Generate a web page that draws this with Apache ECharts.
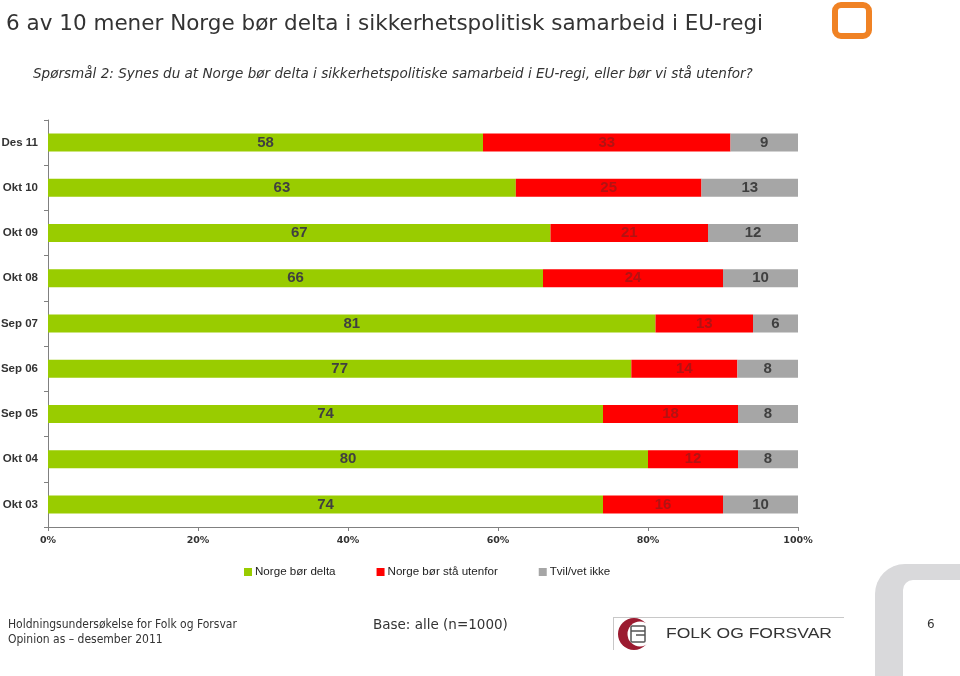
<!DOCTYPE html>
<html><head><meta charset="utf-8">
<script src="https://cdn.jsdelivr.net/npm/echarts@6/dist/echarts.min.js"></script>
<style>html,body{margin:0;padding:0;background:#fff}#c{width:960px;height:676px}</style>
</head><body><div id="c"></div>
<script>
const categories = ['Des 11','Okt 10','Okt 09','Okt 08','Sep 07','Sep 06','Sep 05','Okt 04','Okt 03'];
const delta = [58,63,67,66,81,77,74,80,74];
const utenfor = [33,25,21,24,13,14,18,12,16];
const tvil = [9,13,12,10,6,8,8,8,10];
const seriesNames = ['Norge bør delta','Norge bør stå utenfor','Tvil/vet ikke'];
const xTicks = [0,20,40,60,80,100];

const totals = categories.map((c,i)=>delta[i]+utenfor[i]+tvil[i]);
function pct(arr){return arr.map((v,i)=>({value:v/totals[i]*100, raw:v}));}
const colors = ['#99cc00','#ff0000','#a6a6a6'];
const labelColors = ['#404040','#b31212','#404040'];
const raw = [delta,utenfor,tvil];

const chart = echarts.init(document.getElementById('c'));
chart.setOption({
  animation:false,
  title:[{text:'6 av 10 mener Norge bør delta i sikkerhetspolitisk samarbeid i EU-regi',left:1,top:8,
    textStyle:{fontFamily:'DejaVu Sans',fontSize:21.5,fontWeight:'normal',color:'#333'}},
    {text:'Spørsmål 2: Synes du at Norge bør delta i sikkerhetspolitiske samarbeid i EU-regi, eller bør vi stå utenfor?',left:28,top:62,
    textStyle:{fontFamily:'DejaVu Sans',fontSize:13.55,fontStyle:'italic',fontWeight:'normal',color:'#333'}}],
  grid:{left:48,right:162,top:120,bottom:149,outerBoundsMode:'none',containLabel:false},
  legend:{data:seriesNames,left:239,top:561,itemWidth:8,itemHeight:8,itemGap:41,icon:'rect',
    textStyle:{fontFamily:'Liberation Sans Narrow, Arial Narrow, Liberation Sans',fontSize:11.6,color:'#222',padding:[0,0,0,-2]}},
  xAxis:{type:'value',min:0,max:100,interval:20,
    axisLine:{show:true,lineStyle:{color:'#808080'}},
    axisTick:{show:true,length:4,lineStyle:{color:'#808080'}},
    splitLine:{show:false},
    axisLabel:{formatter:'{value}%',fontFamily:'DejaVu Sans',fontSize:9.5,fontWeight:'bold',color:'#333',margin:9}},
  yAxis:{type:'category',data:categories,inverse:true,
    axisLine:{show:true,lineStyle:{color:'#808080'}},
    axisTick:{show:true,length:4,lineStyle:{color:'#808080'}},
    axisLabel:{fontFamily:'Liberation Sans, Arial',fontSize:11.5,fontWeight:'bold',color:'#333',margin:10}},
  series:[0,1,2].map(k=>({
    name:seriesNames[k],type:'bar',stack:'s',barWidth:18,
    itemStyle:{color:colors[k]},
    label:{show:true,position:'inside',formatter:p=>p.data.raw,
      fontFamily:'Liberation Sans, Arial',fontSize:15,fontWeight:'bold',color:labelColors[k]},
    data:pct(raw[k])
  })),
  graphic:[
    {type:'rect',shape:{x:875,y:564,width:200,height:200,r:30},style:{fill:'#d9d9db'}},
    {type:'rect',shape:{x:903,y:580,width:200,height:200,r:10},style:{fill:'#fff'}},
    {type:'rect',shape:{x:835,y:5,width:34,height:31,r:6},style:{fill:'#fff',stroke:'#f08224',lineWidth:6}},
    {type:'text',x:8,y:617,style:{text:'Holdningsundersøkelse for Folk og Forsvar\nOpinion as – desember 2011',
      font:'12px DejaVu Sans Condensed, DejaVu Sans',fill:'#333',lineHeight:15}},
    {type:'text',x:373,y:618,style:{text:'Base: alle (n=1000)',font:'13.5px DejaVu Sans',fill:'#333'}},
    {type:'text',x:927,y:619,style:{text:'6',font:'12px DejaVu Sans',fill:'#333'}},
    {type:'line',shape:{x1:613,y1:617.5,x2:844,y2:617.5},style:{stroke:'#c8c8c8',lineWidth:1}},
    {type:'line',shape:{x1:613.5,y1:617,x2:613.5,y2:650},style:{stroke:'#c8c8c8',lineWidth:1}},
    {type:'circle',shape:{cx:634,cy:634,r:16},style:{fill:'#9b1b30'}},
    {type:'circle',shape:{cx:640,cy:634,r:12.5},style:{fill:'#fff'}},
    {type:'rect',shape:{x:631,y:626,width:14,height:16,r:1},style:{fill:'none',stroke:'#555',lineWidth:1.5}},
    {type:'line',shape:{x1:631,y1:631,x2:645,y2:631},style:{stroke:'#555',lineWidth:1.5}},
    {type:'line',shape:{x1:636,y1:635,x2:645,y2:635},style:{stroke:'#555',lineWidth:1.5}},
    {type:'text',x:666,y:627,scaleX:1.25,style:{text:'FOLK OG FORSVAR',font:'14px Liberation Sans, Arial',fill:'#333'}}
  ]
});
</script></body></html>
